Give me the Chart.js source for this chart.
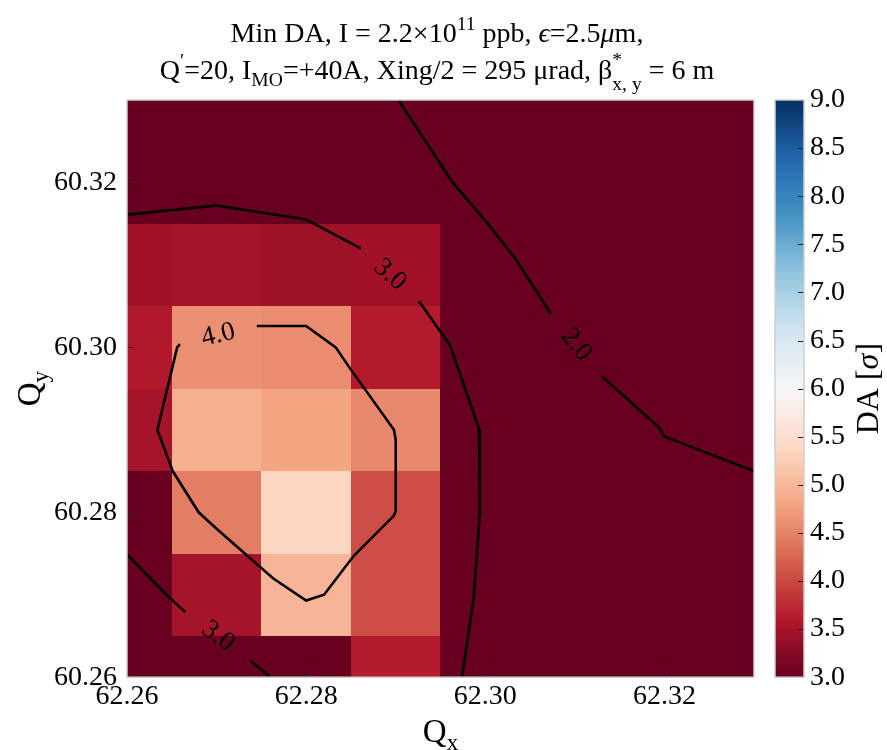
<!DOCTYPE html>
<html>
<head>
<meta charset="utf-8">
<script src="https://cdn.jsdelivr.net/npm/chart.js@4.4.0/dist/chart.umd.min.js"></script>
<style>
  html, body { margin: 0; padding: 0; background: #fff; }
</style>
</head>
<body>
<canvas id="da" width="887" height="750"></canvas>
<script>
// tune scan grid (cell centres)
var qxCells = [62.26, 62.27, 62.28, 62.29, 62.30, 62.31, 62.32, 62.33];
var qyCells = [60.26, 60.27, 60.28, 60.29, 60.30, 60.31, 60.32, 60.33];

// min DA [sigma] per row of qy, columns follow qxCells
var da6026 = [2.6, 2.8, 2.9, 3.63, 2.7, 2.4, 2.2, 2.1];
var da6027 = [2.7, 3.5, 4.97, 4.05, 2.7, 2.4, 2.1, 2.0];
var da6028 = [2.9, 4.45, 5.35, 4.05, 2.7, 2.3, 2.0, 1.9];
var da6029 = [3.5, 4.92, 4.8, 4.55, 2.6, 2.2, 1.9, 1.8];
var da6030 = [3.6, 4.62, 4.58, 3.62, 2.4, 2.0, 1.8, 1.6];
var da6031 = [3.46, 3.5, 3.44, 3.46, 2.2, 1.9, 1.7, 1.6];
var da6032 = [2.9, 2.9, 2.7, 2.4, 2.0, 1.8, 1.6, 1.5];
var da6033 = [2.9, 2.8, 2.6, 2.2, 1.9, 1.7, 1.6, 1.5];
var daRows = [da6026, da6027, da6028, da6029, da6030, da6031, da6032, da6033];

var xTicks = [62.26, 62.28, 62.30, 62.32];
var yTicks = [60.26, 60.28, 60.30, 60.32];
var cbTicks = [3.0, 3.5, 4.0, 4.5, 5.0, 5.5, 6.0, 6.5, 7.0, 7.5, 8.0, 8.5, 9.0];

// contour paths (qx, qy), null = gap for the inline label
var contour40 = [[62.2745,60.3026],[62.28,60.3026],[62.2833,60.30],[62.285,60.2973],[62.2898,60.29],
  [62.29,60.2888],[62.29,60.2802],[62.2898,60.2796],[62.2853,60.2747],[62.282,60.27],[62.28,60.2693],
  [62.2763,60.272],[62.27,60.278],[62.268,60.28],[62.2651,60.285],[62.2634,60.29],[62.2656,60.30],[62.2659,60.3004]];
var contour30a = [[62.26,60.3161],[62.27,60.3172],[62.28,60.3155],[62.2861,60.312],null,
  [62.2926,60.3056],[62.2961,60.3002],[62.2993,60.2901],[62.2994,60.28],[62.2987,60.2695],[62.2974,60.26]];
var contour30b = [[62.26,60.2749],[62.2643,60.2701],[62.2665,60.2679],null,[62.2738,60.262],[62.276,60.26]];
var contour20 = [[62.2903,60.33],[62.2963,60.3201],[62.3002,60.3151],[62.3034,60.3107],[62.3073,60.3041],null,
  [62.313,60.2965],[62.3194,60.2903],[62.32,60.2892],[62.33,60.285]];
// label text + the two path ends it sits between
var contourLabels = [
  { text: '4.0', a: [62.2659,60.3004], b: [62.2745,60.3026] },
  { text: '3.0', a: [62.2861,60.312], b: [62.2926,60.3056] },
  { text: '3.0', a: [62.2665,60.2679], b: [62.2738,60.262] },
  { text: '2.0', a: [62.3073,60.3041], b: [62.313,60.2965] }
];

var SERIF = '"Liberation Serif", "DejaVu Serif", serif';
var rdbu = ['#67001f','#b2182b','#d6604d','#f4a582','#fddbc7','#f7f7f7','#d1e5f0','#92c5de','#4393c3','#2166ac','#053061'];
var vmin = 3, vmax = 9;

function hex(c) { return [parseInt(c.substr(1,2),16), parseInt(c.substr(3,2),16), parseInt(c.substr(5,2),16)]; }
function cmap(v) {
  var t = Math.max(0, Math.min(1, (v - vmin) / (vmax - vmin))) * (rdbu.length - 1);
  var i = Math.min(Math.floor(t), rdbu.length - 2), f = t - i;
  var a = hex(rdbu[i]), b = hex(rdbu[i+1]);
  return 'rgb(' + Math.round(a[0]+(b[0]-a[0])*f) + ',' + Math.round(a[1]+(b[1]-a[1])*f) + ',' + Math.round(a[2]+(b[2]-a[2])*f) + ')';
}
function pts(path) {
  return path.map(function(p){ return p ? {x: p[0], y: p[1]} : {x: null, y: null}; });
}
function lineSet(path) {
  return { data: pts(path), showLine: true, borderColor: '#000', borderWidth: 2.6, pointRadius: 0, tension: 0, spanGaps: false };
}

// draws text pieces with sup/sub
function drawRuns(ctx, runs, cx, y, size) {
  var small = size * 0.7;
  function font(r) { return (r.italic ? 'italic ' : '') + (r.sup || r.sub || r.stack ? small : size) + 'px ' + SERIF; }
  var w = 0;
  runs.forEach(function(r){
    ctx.font = font(r);
    if (r.stack) r.w = Math.max(ctx.measureText(r.stack[0]).width, ctx.measureText(r.stack[1]).width);
    else r.w = ctx.measureText(r.t).width;
    w += r.w;
  });
  var x = cx - w / 2;
  ctx.textAlign = 'left';
  ctx.textBaseline = 'alphabetic';
  runs.forEach(function(r){
    ctx.font = font(r);
    if (r.stack) {
      ctx.fillText(r.stack[0], x, y - size * 0.45);
      ctx.fillText(r.stack[1], x, y + size * 0.38);
    } else {
      var dy = r.sup ? -size * 0.42 : (r.sub ? size * 0.25 : 0);
      ctx.fillText(r.t, x, y + dy);
    }
    x += r.w;
  });
}

var decor = {
  id: 'decor',
  beforeDatasetsDraw: function(chart) {
    var ctx = chart.ctx, xs = chart.scales.x, ys = chart.scales.y, area = chart.chartArea;
    ctx.save();
    ctx.beginPath();
    ctx.rect(area.left, area.top, area.right - area.left, area.bottom - area.top);
    ctx.clip();
    daRows.forEach(function(row, j){
      row.forEach(function(v, i){
        var x0 = Math.round(xs.getPixelForValue(qxCells[i] - 0.005));
        var x1 = Math.round(xs.getPixelForValue(qxCells[i] + 0.005));
        var y0 = Math.round(ys.getPixelForValue(qyCells[j] + 0.005));
        var y1 = Math.round(ys.getPixelForValue(qyCells[j] - 0.005));
        ctx.fillStyle = cmap(v);
        ctx.fillRect(x0, y0, x1 - x0, y1 - y0);
      });
    });
    ctx.restore();
  },
  afterDatasetsDraw: function(chart) {
    var ctx = chart.ctx, xs = chart.scales.x, ys = chart.scales.y, cb = chart.scales.cb, area = chart.chartArea;
    ctx.save();
    // inline contour labels
    ctx.fillStyle = '#000';
    ctx.font = '27px ' + SERIF;
    ctx.textAlign = 'center';
    ctx.textBaseline = 'middle';
    contourLabels.forEach(function(l){
      var ax = xs.getPixelForValue(l.a[0]), ay = ys.getPixelForValue(l.a[1]);
      var bx = xs.getPixelForValue(l.b[0]), by = ys.getPixelForValue(l.b[1]);
      var ang = Math.atan2(by - ay, bx - ax);
      if (ang > Math.PI / 2) ang -= Math.PI;
      if (ang < -Math.PI / 2) ang += Math.PI;
      ctx.save();
      ctx.translate((ax + bx) / 2, (ay + by) / 2);
      ctx.rotate(ang);
      ctx.fillText(l.text, 0, 0);
      ctx.restore();
    });
    // inward ticks
    ctx.strokeStyle = '#222';
    ctx.lineWidth = 1;
    xTicks.forEach(function(v){
      var px = Math.round(xs.getPixelForValue(v)) + 0.5;
      ctx.beginPath(); ctx.moveTo(px, area.bottom); ctx.lineTo(px, area.bottom - 6); ctx.stroke();
    });
    yTicks.forEach(function(v){
      var py = Math.round(ys.getPixelForValue(v)) + 0.5;
      ctx.beginPath(); ctx.moveTo(area.left, py); ctx.lineTo(area.left + 6, py); ctx.stroke();
    });
    // frame
    ctx.strokeStyle = '#cfcfcf';
    ctx.lineWidth = 1.5;
    ctx.strokeRect(area.left, area.top, area.right - area.left, area.bottom - area.top);

    // colorbar
    var cx0 = 775, cx1 = 804;
    var top = cb.getPixelForValue(vmax), bot = cb.getPixelForValue(vmin);
    var g = ctx.createLinearGradient(0, bot, 0, top);
    rdbu.forEach(function(c, k){ g.addColorStop(k / (rdbu.length - 1), c); });
    ctx.fillStyle = g;
    ctx.fillRect(cx0, top, cx1 - cx0, bot - top);
    ctx.strokeStyle = '#222';
    ctx.lineWidth = 1;
    cbTicks.forEach(function(v){
      var py = Math.round(cb.getPixelForValue(v)) + 0.5;
      ctx.beginPath(); ctx.moveTo(cx1 - 6, py); ctx.lineTo(cx1, py); ctx.stroke();
    });
    ctx.strokeStyle = '#cfcfcf';
    ctx.lineWidth = 1.5;
    ctx.strokeRect(cx0, top, cx1 - cx0, bot - top);

    // axis labels
    ctx.fillStyle = '#000';
    ctx.textBaseline = 'alphabetic';
    var mid = (area.left + area.right) / 2;
    drawRuns(ctx, [{t: 'Q'}, {t: 'x', sub: true}], mid, 742, 33);
    ctx.save();
    ctx.translate(40, (area.top + area.bottom) / 2);
    ctx.rotate(-Math.PI / 2);
    drawRuns(ctx, [{t: 'Q'}, {t: 'y', sub: true}], 0, 0, 33);
    ctx.restore();
    ctx.save();
    ctx.translate(878, (area.top + area.bottom) / 2);
    ctx.rotate(-Math.PI / 2);
    drawRuns(ctx, [{t: 'DA ['}, {t: 'σ', italic: true}, {t: ']'}], 0, 0, 32);
    ctx.restore();

    // title
    drawRuns(ctx, [{t: 'Min DA, I = 2.2×10'}, {t: '11', sup: true}, {t: ' ppb, '}, {t: 'ϵ', italic: true},
      {t: '=2.5'}, {t: 'μ', italic: true}, {t: 'm,'}], 437, 42, 28);
    drawRuns(ctx, [{t: 'Q'}, {t: '′', sup: true}, {t: '=20, I'}, {t: 'MO', sub: true},
      {t: '=+40A, Xing/2 = 295 μrad, β'}, {stack: ['*', 'x, y']}, {t: ' = 6 m'}], 437, 79, 28);
    ctx.restore();
  }
};

var tickFont = { family: SERIF, size: 28 };

new Chart(document.getElementById('da'), {
  type: 'scatter',
  data: {
    datasets: [lineSet(contour40), lineSet(contour30a), lineSet(contour30b), lineSet(contour20)]
  },
  options: {
    responsive: false,
    animation: false,
    devicePixelRatio: 1,
    layout: { padding: { top: 100, left: 0, right: 0, bottom: 0 } },
    plugins: { legend: { display: false }, tooltip: { enabled: false }, title: { display: false } },
    scales: {
      x: {
        type: 'linear', min: 62.26, max: 62.33,
        afterBuildTicks: function(s){ s.ticks = xTicks.map(function(v){ return {value: v}; }); },
        afterFit: function(s){ s.height = 72; },
        grid: { display: false, drawTicks: false }, border: { display: false },
        ticks: { font: tickFont, color: '#000', padding: 3, autoSkip: false, maxRotation: 0,
          callback: function(v){ return Number(v).toFixed(2); } }
      },
      y: {
        type: 'linear', min: 60.26, max: 60.33,
        afterBuildTicks: function(s){ s.ticks = yTicks.map(function(v){ return {value: v}; }); },
        afterFit: function(s){ s.width = 127; },
        grid: { display: false, drawTicks: false }, border: { display: false },
        ticks: { font: tickFont, color: '#000', padding: 10, autoSkip: false,
          callback: function(v){ return Number(v).toFixed(2); } }
      },
      cb: {
        type: 'linear', position: 'right', min: vmin, max: vmax,
        afterBuildTicks: function(s){ s.ticks = cbTicks.map(function(v){ return {value: v}; }); },
        afterFit: function(s){ s.width = 133; },
        grid: { display: false, drawTicks: false }, border: { display: false },
        ticks: { font: tickFont, color: '#000', padding: 56, autoSkip: false,
          callback: function(v){ return Number(v).toFixed(1); } }
      }
    }
  },
  plugins: [decor]
});
</script>
</body>
</html>
